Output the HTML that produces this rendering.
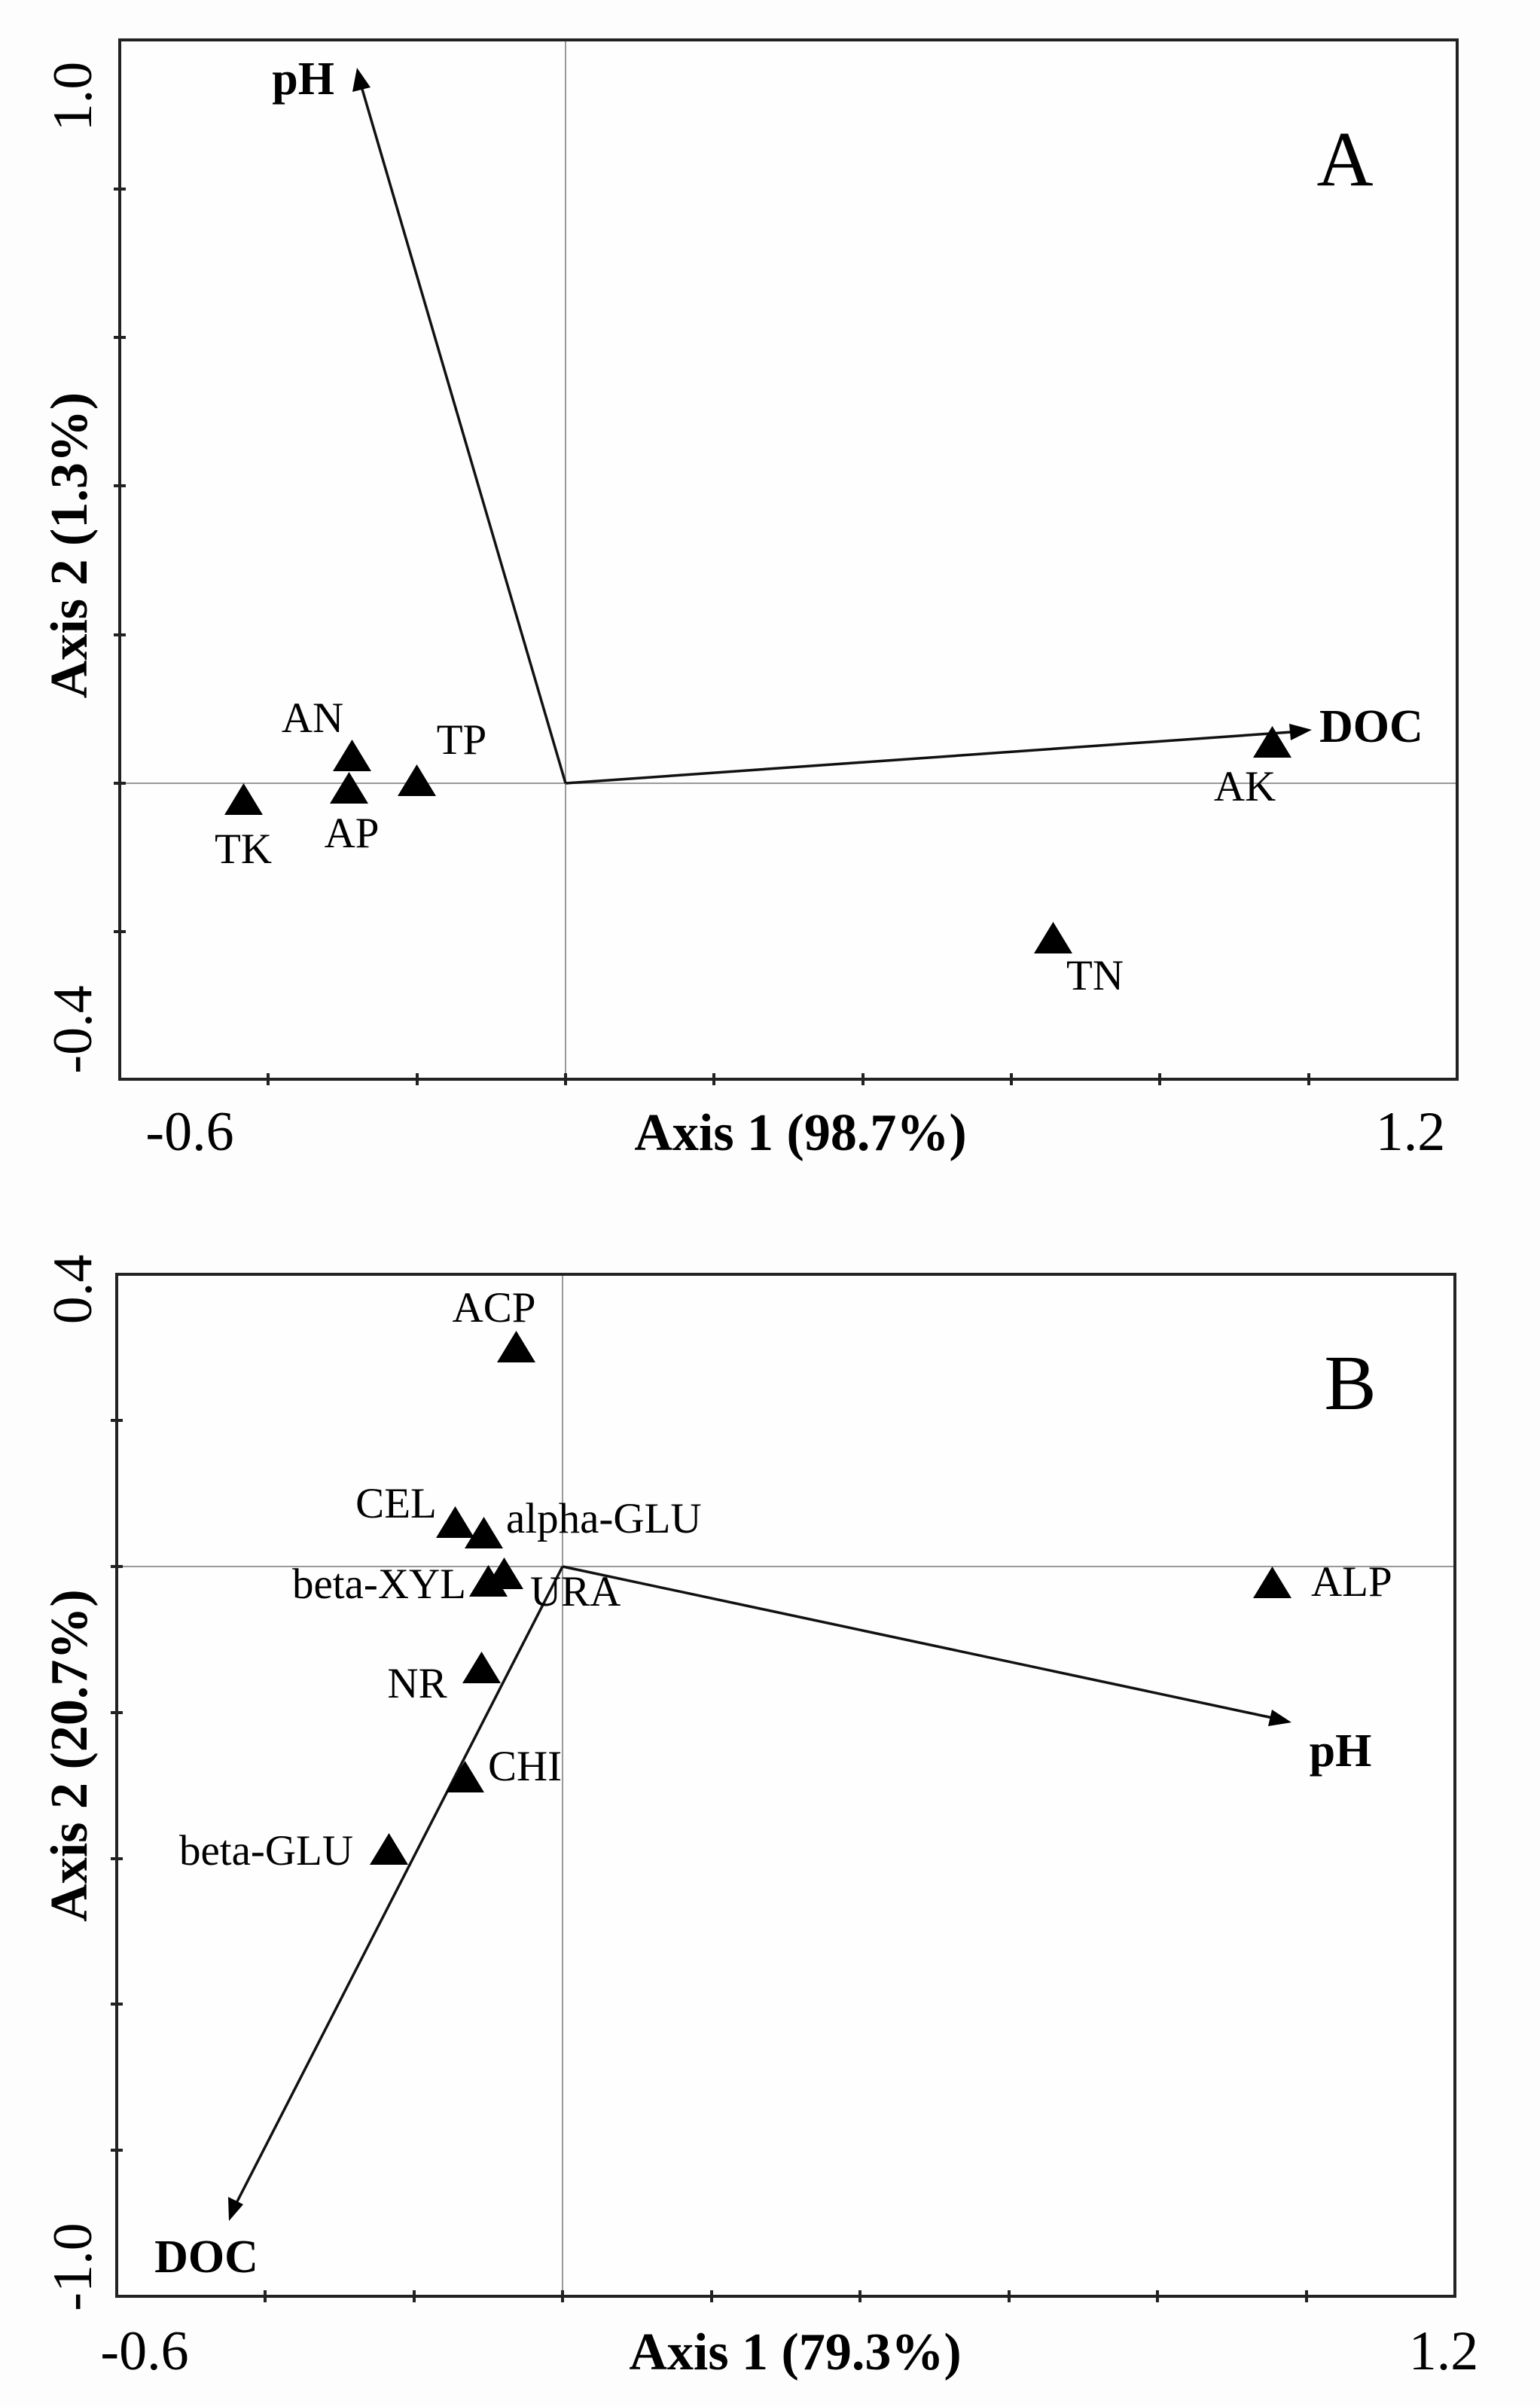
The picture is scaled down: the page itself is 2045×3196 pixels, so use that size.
<!DOCTYPE html>
<html><head><meta charset="utf-8"><style>
html,body{margin:0;padding:0;background:#fdfdfd;}
svg{display:block;}
text{font-family:"Liberation Serif",serif;fill:#000;}
.t{font-size:74px;}
.l{font-size:57px;}
.b{font-size:62px;font-weight:bold;}
.ax{font-size:70px;font-weight:bold;}
</style></head><body>
<svg width="2045" height="3196" viewBox="0 0 2045 3196" xmlns="http://www.w3.org/2000/svg">
<defs>
<symbol id="tri" viewBox="0 0 51 42"><polygon points="25.5,0 51,42 0,42" fill="#000"/></symbol>
</defs>

<!-- ===== Panel A ===== -->
<g>
<rect x="159" y="53" width="1776" height="1380" fill="#fefefe"/>
<line x1="159" y1="1040" x2="1935" y2="1040" stroke="#999" stroke-width="2"/>
<line x1="751" y1="53" x2="751" y2="1433" stroke="#999" stroke-width="2"/>
<rect x="159" y="53" width="1776" height="1380" fill="none" stroke="#222" stroke-width="4"/>
<g stroke="#222" stroke-width="4">
<line x1="356" y1="1425" x2="356" y2="1441"/><line x1="554" y1="1425" x2="554" y2="1441"/>
<line x1="751" y1="1425" x2="751" y2="1441"/><line x1="948" y1="1425" x2="948" y2="1441"/>
<line x1="1146" y1="1425" x2="1146" y2="1441"/><line x1="1343" y1="1425" x2="1343" y2="1441"/>
<line x1="1540" y1="1425" x2="1540" y2="1441"/><line x1="1738" y1="1425" x2="1738" y2="1441"/>
<line x1="151" y1="251" x2="167" y2="251"/><line x1="151" y1="448" x2="167" y2="448"/>
<line x1="151" y1="645" x2="167" y2="645"/><line x1="151" y1="843" x2="167" y2="843"/>
<line x1="151" y1="1040" x2="167" y2="1040"/><line x1="151" y1="1237" x2="167" y2="1237"/>
</g>
<line x1="751" y1="1040" x2="480" y2="115" stroke="#111" stroke-width="3.5"/>
<polygon points="474,90 468,122 492,116" fill="#000"/>
<line x1="751" y1="1040" x2="1715" y2="972" stroke="#111" stroke-width="3.5"/>
<polygon points="1742,969 1712,961 1714,983" fill="#000"/>
<use href="#tri" x="298" y="1040" width="51" height="42"/>
<use href="#tri" x="442" y="982" width="51" height="42"/>
<use href="#tri" x="438" y="1025" width="51" height="42"/>
<use href="#tri" x="528" y="1015" width="51" height="42"/>
<use href="#tri" x="1664" y="964" width="51" height="42"/>
<use href="#tri" x="1373" y="1224" width="51" height="42"/>
<text class="l" x="323" y="1146" text-anchor="middle">TK</text>
<text class="l" x="415" y="972" text-anchor="middle">AN</text>
<text class="l" x="467" y="1125" text-anchor="middle">AP</text>
<text class="l" x="613" y="1001" text-anchor="middle">TP</text>
<text class="l" x="1653" y="1063" text-anchor="middle">AK</text>
<text class="l" x="1454" y="1314" text-anchor="middle">TN</text>
<text class="b" x="444" y="125" text-anchor="end">pH</text>
<text class="b" x="1752" y="985">DOC</text>
<text x="1786" y="246" text-anchor="middle" style="font-size:104px">A</text>
<text class="t" x="252" y="1527" text-anchor="middle">-0.6</text>
<text class="t" x="1873" y="1527" text-anchor="middle">1.2</text>
<text class="t" transform="translate(121,128) rotate(-90)" text-anchor="middle">1.0</text>
<text class="t" transform="translate(121,1367) rotate(-90)" text-anchor="middle">-0.4</text>
<text class="ax" x="1063" y="1527" text-anchor="middle">Axis 1 (98.7%)</text>
<text class="ax" transform="translate(115,724) rotate(-90)" text-anchor="middle">Axis 2 (1.3%)</text>
</g>

<!-- ===== Panel B ===== -->
<g>
<rect x="155" y="1692" width="1777" height="1357" fill="#fefefe"/>
<line x1="155" y1="2080" x2="1932" y2="2080" stroke="#999" stroke-width="2"/>
<line x1="747" y1="1692" x2="747" y2="3049" stroke="#999" stroke-width="2"/>
<rect x="155" y="1692" width="1777" height="1357" fill="none" stroke="#222" stroke-width="4"/>
<g stroke="#222" stroke-width="4">
<line x1="352" y1="3041" x2="352" y2="3057"/><line x1="550" y1="3041" x2="550" y2="3057"/>
<line x1="747" y1="3041" x2="747" y2="3057"/><line x1="945" y1="3041" x2="945" y2="3057"/>
<line x1="1142" y1="3041" x2="1142" y2="3057"/><line x1="1340" y1="3041" x2="1340" y2="3057"/>
<line x1="1537" y1="3041" x2="1537" y2="3057"/><line x1="1735" y1="3041" x2="1735" y2="3057"/>
<line x1="147" y1="1886" x2="163" y2="1886"/><line x1="147" y1="2080" x2="163" y2="2080"/>
<line x1="147" y1="2274" x2="163" y2="2274"/><line x1="147" y1="2468" x2="163" y2="2468"/>
<line x1="147" y1="2661" x2="163" y2="2661"/><line x1="147" y1="2855" x2="163" y2="2855"/>
</g>
<line x1="747" y1="2080" x2="1690" y2="2281" stroke="#111" stroke-width="3.5"/>
<polygon points="1715,2287 1689,2270 1684,2292" fill="#000"/>
<line x1="747" y1="2080" x2="314" y2="2925" stroke="#111" stroke-width="3.5"/>
<polygon points="304,2949 303,2917 323,2927" fill="#000"/>
<use href="#tri" x="660" y="1767" width="51" height="42"/>
<use href="#tri" x="579" y="2000" width="51" height="42"/>
<use href="#tri" x="617" y="2014" width="51" height="42"/>
<use href="#tri" x="644" y="2068" width="51" height="42"/>
<use href="#tri" x="623" y="2078" width="51" height="42"/>
<use href="#tri" x="614" y="2193" width="51" height="42"/>
<use href="#tri" x="592" y="2338" width="51" height="42"/>
<use href="#tri" x="491" y="2434" width="51" height="42"/>
<use href="#tri" x="1664" y="2080" width="51" height="42"/>
<text class="l" x="656" y="1755" text-anchor="middle">ACP</text>
<text class="l" x="526" y="2015" text-anchor="middle">CEL</text>
<text class="l" x="672" y="2035">alpha-GLU</text>
<text class="l" x="619" y="2122" text-anchor="end">beta-XYL</text>
<text class="l" x="704" y="2132">URA</text>
<text class="l" x="554" y="2254" text-anchor="middle">NR</text>
<text class="l" x="648" y="2364">CHI</text>
<text class="l" x="469" y="2476" text-anchor="end">beta-GLU</text>
<text class="l" x="1741" y="2119">ALP</text>
<text class="b" x="1780" y="2345" text-anchor="middle">pH</text>
<text class="b" x="274" y="3017" text-anchor="middle">DOC</text>
<text x="1793" y="1871" text-anchor="middle" style="font-size:104px">B</text>
<text class="t" x="192" y="3146" text-anchor="middle">-0.6</text>
<text class="t" x="1917" y="3146" text-anchor="middle">1.2</text>
<text class="t" transform="translate(121,1712) rotate(-90)" text-anchor="middle">0.4</text>
<text class="t" transform="translate(121,3010) rotate(-90)" text-anchor="middle">-1.0</text>
<text class="ax" x="1056" y="3146" text-anchor="middle">Axis 1 (79.3%)</text>
<text class="ax" transform="translate(115,2331) rotate(-90)" text-anchor="middle">Axis 2 (20.7%)</text>
</g>
</svg>
</body></html>
